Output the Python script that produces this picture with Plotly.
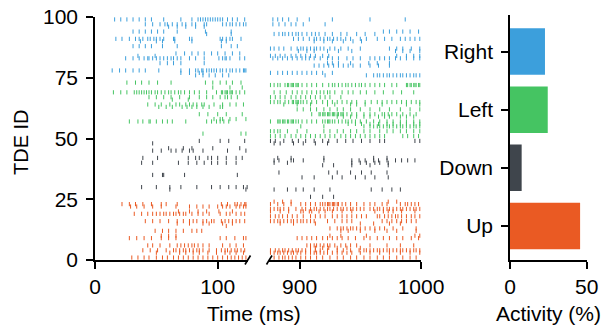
import plotly.graph_objects as go

W, H = 602, 333

# ---------------- data (spike times in ms, per TDE id) ----------------
RIGHT_SPIKES = {
    99: [16, 21, 26, 31, 36, 41, 46, 56, 70, 79, 84, 86, 88, 90, 92, 94, 96, 98, 100, 102, 104, 108, 112, 116, 122,
         878, 882, 886, 891, 898, 908, 927, 958, 987],
    97: [41, 47, 53, 57, 59, 63, 67, 71, 74, 79, 82, 89, 91, 104, 107, 110, 112, 115, 118, 121, 123,
         878, 883, 888, 893, 897, 903, 921],
    96: [60, 67, 74, 82, 89],
    94: [31, 36, 41, 46, 51, 56, 67, 90, 111, 969, 974, 980, 985, 991, 998],
    93: [91, 111, 879, 883, 886, 888, 891, 894, 897, 899, 902, 906, 910, 913, 916, 921, 927, 934, 939, 947, 954, 962],
    91: [17, 22, 28, 33, 36, 39, 43, 45, 48, 50, 53, 56, 64, 65, 77, 79, 102, 104, 107, 110, 112, 119,
         895, 899, 903, 908, 912, 914, 917, 920, 923, 925, 928, 931, 934, 938, 942, 950, 955, 964, 970, 976,
         983, 987, 991, 995, 999],
    90: [37, 50, 55, 65, 79, 103, 107, 912, 920, 927, 936, 944, 951],
    88: [31, 36, 41, 46, 55, 67, 103, 111, 116],
    87: [876, 879, 883, 887, 893, 898, 901, 903, 906, 909, 912, 914, 917, 920, 925, 929, 934, 940, 950, 974,
         980, 985, 992, 999],
    86: [899, 906, 912, 923, 932, 943, 979, 985, 991, 999],
    85: [66, 73, 79, 84, 89, 95, 100, 106, 112, 118],
    84: [35, 49, 876, 880, 884, 888, 893, 897, 901, 905, 909, 913, 919, 924, 980, 988, 994, 999],
    83: [25, 31, 36, 40, 43, 44, 47, 50, 53, 56, 59, 62, 64, 67, 70, 77, 82, 89, 101, 104, 106, 107, 110, 118, 122,
         878, 882, 886, 890, 894, 898, 902, 905, 908, 912, 917, 923, 927, 932, 939, 944, 950, 958, 962, 966,
         970, 974, 979, 983, 988, 994, 999],
    81: [53, 59, 64, 70, 89, 923, 927, 932, 942, 957, 964, 974],
    80: [912, 916, 920, 924, 928, 932, 936, 940, 944, 950, 958, 965, 974],
    78: [14, 20, 25, 31, 36, 41, 52, 70, 77, 82, 84, 87, 88, 91, 93, 95, 97, 99, 102, 104, 107, 110, 112, 115,
         118, 121, 122, 123],
    77: [70, 77, 85, 88, 876, 882, 886, 890, 894, 898, 902, 906, 910, 914, 919, 927],
    76: [82, 88, 93, 98, 104, 109, 921, 955, 961, 964, 966, 969, 972, 974, 977, 980, 983, 985, 988, 991, 994,
         996, 999],
}

LEFT_SPIKES = {
    73: [26, 33, 38, 44, 51, 62, 90, 96, 102, 107, 112, 119],
    72: [876, 879, 882, 884, 888, 890, 891, 893, 894, 895, 897, 898, 899, 902, 906, 910, 914, 919, 924, 927,
         929, 932, 935, 938, 940, 943, 946, 949, 951, 954, 958, 962, 966, 970, 976, 980, 988, 989, 991, 992,
         994, 995, 996, 998, 999],
    71: [96, 110, 120],
    69: [15, 21, 26, 32, 34, 36, 38, 40, 42, 44, 46, 49, 51, 54, 57, 60, 62, 65, 68, 70, 73, 77, 81, 85, 91, 99,
         103, 104, 106, 107, 108, 110, 111, 112, 115, 118, 122,
         879, 884, 889, 894, 898, 902, 906, 910, 914, 917, 920, 923, 925, 929, 935, 940, 944, 950, 955, 962,
         969, 977, 984, 994],
    67: [44, 50, 56, 62, 69, 77, 85, 91, 96, 102, 106, 108, 111, 116,
         876, 880, 884, 888, 893, 897, 901, 905, 909, 913, 917, 921, 925, 934],
    66: [63, 76],
    65: [876, 879, 882, 884, 888, 891, 894, 895, 897, 898, 899, 901, 903, 906, 910, 914, 919, 923, 927, 931,
         935, 939, 943, 947, 954, 959, 964, 968, 972, 976, 980, 984, 988, 992, 996, 999],
    64: [43, 49, 54, 61, 66, 69, 74, 77, 80, 83, 87, 89, 97, 104, 110, 115, 121,
         887, 898, 909, 923, 929, 942, 947, 954, 968, 988, 999],
    63: [52, 58, 63, 71, 75, 79, 83, 88, 93, 102, 104],
    62: [898, 903, 909, 914, 920, 925, 931, 936, 942, 950, 958, 966, 974, 983, 991, 999],
    60: [85, 92, 100, 107, 120,
         910, 916, 917, 919, 920, 921, 923, 924, 925, 927, 928, 929, 931, 932, 934, 935, 936, 939, 943, 947,
         953, 958, 962, 968, 970, 973, 976, 980, 985, 991, 996],
    59: [931, 936, 942, 947, 953, 958, 965, 970, 974, 983, 988, 994],
    58: [97, 102, 104, 110, 115, 123],
    57: [28, 35, 39, 44, 45, 50, 55, 59, 63, 74, 91, 95, 99, 102, 105, 109,
         876, 882, 883, 884, 886, 887, 888, 890, 891, 893, 894, 895, 897, 899, 902, 906, 910, 914, 919, 921,
         923, 924, 925, 927, 929, 932, 935, 938, 940, 943, 946, 950, 955, 961, 966, 972, 977, 983, 988, 994, 999],
    56: [940, 946, 951, 958, 965, 972, 977, 983, 988, 994, 999],
    55: [901, 920, 953, 958, 961, 964, 966, 969, 972, 974, 977, 980, 983, 985, 988, 991, 994, 996, 999],
    53: [876, 879, 882, 884, 890, 898, 906, 920, 925, 931, 936, 942, 947, 953, 958, 966, 972, 977, 983, 988,
         994, 999],
    52: [88, 119, 123],
    51: [876, 880, 884, 888, 893, 897, 901, 905, 909, 913, 917, 921, 925, 929, 934, 938, 942, 946, 950, 954,
         958, 962, 966, 970, 985, 989, 994, 998],
}

DOWN_SPIKES = {
    49: [85, 102, 109, 122, 876, 880, 887, 894, 899, 905, 912, 919, 924, 931, 938, 944, 951, 958, 966, 970,
         995, 999],
    48: [47, 879, 884, 895, 903, 913, 923],
    46: [60, 72, 79, 96, 118],
    45: [47, 54, 62, 66, 71, 77, 80, 88, 108, 123],
    42: [39, 51, 76, 82, 85, 92, 95, 100, 107, 115, 120, 882, 893, 920, 961, 972],
    41: [879, 883, 893, 895, 903, 920, 943, 949, 954, 961, 965, 972, 979, 984, 989, 995],
    40: [38, 47, 68, 76, 83, 89, 95, 100, 107, 115, 879, 890, 943, 950, 955, 962, 966, 973],
    39: [919, 928, 943, 958, 973],
    36: [883, 924, 931, 942, 951, 959, 972],
    35: [47, 55, 56, 73, 116],
    34: [902, 912, 927, 935, 946, 954, 962, 973],
    30: [38, 50, 61, 70, 83, 95, 102, 109, 115, 121, 124],
    29: [61, 123, 879, 890, 897, 903, 912, 925, 959, 968, 976, 983],
    26: [909, 919, 928],
}

UP_SPIKES = {
    24: [879, 886, 893, 973, 980],
    23: [22, 28, 33, 39, 46, 54, 58, 67, 103, 108, 114, 116, 119, 122, 123,
         876, 882, 887, 893, 901, 905, 909, 913, 917, 919, 921, 923, 924, 925, 927, 928, 929, 931, 932, 935,
         938, 942, 947, 953, 958, 962, 968, 972, 983, 987, 989, 992, 995, 998],
    22: [29, 34, 40, 47, 54, 66, 77, 83, 88, 93, 100, 104, 107, 110, 115, 118, 121, 123],
    21: [876, 879, 882, 884, 887, 891, 897, 902, 905, 909, 912, 914, 917, 920, 923, 925, 928, 931, 934, 936,
         939, 942, 944, 947, 950, 953, 958, 961, 964, 966, 969, 972, 974, 977, 980, 983, 985, 988, 991, 994,
         996, 999],
    20: [68, 77, 84, 91, 101, 112, 876, 884, 891, 901, 903, 908, 910, 916, 921, 927, 935, 943, 962, 969, 973,
         977, 984, 995],
    19: [32, 38, 43, 47, 50, 53, 56, 58, 61, 64, 66, 69, 72, 74, 79, 84, 88, 93, 102, 107, 110, 115, 119, 122],
    18: [876, 880, 883, 886, 890, 894, 898, 903, 909, 913, 917, 921, 927, 931, 935, 939, 943, 947, 951, 955,
         964, 966, 970, 973, 976, 979, 981, 984, 988, 992, 995, 999],
    16: [41, 47, 53, 60, 67, 72, 77, 80, 83, 88, 91, 95, 97, 103, 106, 109, 112, 115, 118, 122,
         876, 879, 882, 884, 887, 890, 893, 895, 898, 901, 903, 906, 909, 912, 923, 929, 935, 939, 943, 968,
         972, 976, 980, 984, 988, 992, 996],
    15: [67, 77, 88, 93, 104, 112, 884, 895, 913, 950, 961, 974, 983],
    14: [107],
    13: [925, 931, 934, 936, 939, 942, 944, 947, 950, 954, 958, 962, 966, 970, 977, 985, 996],
    12: [49, 55, 60, 66, 72, 79, 83, 87, 934, 940, 950, 962, 972, 980, 996],
    10: [54, 60, 66, 925, 934, 955, 995, 999],
    9: [28, 34, 40, 46, 54, 60, 66, 102, 107, 114, 121, 123,
        898, 902, 906, 910, 914, 919, 923, 927, 931, 935, 940, 946, 953, 958, 964, 969, 974, 980, 985, 992, 998],
    6: [43, 47, 53, 61, 67, 70, 73, 76, 79, 81, 84, 88, 93, 104, 110, 115, 121,
        906, 909, 912, 914, 917, 920, 923, 925, 929, 934, 938, 942, 947, 958, 972, 983, 994],
    5: [909, 913, 919, 924, 931, 939, 950],
    4: [39, 45, 51, 58, 64, 66, 69, 72, 74, 77, 80, 83, 85, 88, 93, 99, 103, 106, 108, 111, 114, 116, 119, 122,
        876, 880, 883, 886, 888, 891, 894, 897, 899, 902, 905, 909, 913, 917, 923, 931, 936, 942, 949, 953,
        955, 958, 961, 964, 966, 969, 972, 974, 977, 980, 983, 985, 988, 991, 994, 996, 999],
    3: [50, 61, 69, 74, 80, 85, 92, 99, 106, 110, 115, 121,
        876, 879, 882, 884, 887, 890, 893, 895, 898, 901, 905, 909, 912, 914, 917, 920, 923, 927, 931, 935,
        939, 943, 950, 958, 966, 974, 983, 991, 999],
    1: [30, 35, 40, 44, 50, 55, 59, 64, 68, 72, 76, 80, 84, 88, 92, 96, 100, 104, 108, 111, 114, 117, 120, 123,
        879, 883, 886, 888, 891, 894, 897, 901, 905, 909, 914, 919, 925, 931, 936, 942, 947, 953, 958, 964,
        969, 974, 980, 985, 991, 996],
}

CATEGORIES = ["Up", "Down", "Left", "Right"]
ACTIVITY = [45.7, 7.6, 24.6, 22.8]

Y_TICKS = [0, 25, 50, 75, 100]
X_TICKS_LEFT = [0, 100]
X_TICKS_RIGHT = [900, 1000]
ACT_TICKS = [0, 50]

COLORS = {"Up": "#ea5a23", "Down": "#3f454c", "Left": "#45c462", "Right": "#3c9fdc"}


def px_x(p):
    return p / W


def px_y(p):
    return 1 - p / H


fig = go.Figure()

groups = [("Right", RIGHT_SPIKES), ("Left", LEFT_SPIKES), ("Down", DOWN_SPIKES), ("Up", UP_SPIKES)]
for name, spikes in groups:
    lx, ly, rx, ry = [], [], [], []
    for nid, times in spikes.items():
        for t in times:
            if t < 500:
                lx.append(t)
                ly.append(nid)
            else:
                rx.append(t)
                ry.append(nid)
    mk = dict(symbol="line-ns", size=3, color=COLORS[name], line=dict(width=1, color=COLORS[name]))
    fig.add_trace(go.Scatter(x=lx, y=ly, mode="markers", marker=mk, xaxis="x", yaxis="y",
                             hoverinfo="skip", showlegend=False))
    fig.add_trace(go.Scatter(x=rx, y=ry, mode="markers", marker=mk, xaxis="x2", yaxis="y",
                             hoverinfo="skip", showlegend=False))

fig.add_trace(go.Bar(x=ACTIVITY, y=CATEGORIES, orientation="h", width=0.8,
                     marker=dict(color=[COLORS[c] for c in CATEGORIES], line=dict(width=0)),
                     xaxis="x3", yaxis="y2", showlegend=False))

FONT = dict(family="Liberation Sans, Arial, sans-serif", size=21, color="black")
axis_common = dict(showline=True, linecolor="black", linewidth=1.6, ticks="outside", ticklen=7,
                   tickwidth=1.6, tickcolor="black", showgrid=False, zeroline=False,
                   tickfont=FONT, fixedrange=True, automargin=False)

fig.update_layout(
    width=W, height=H,
    margin=dict(l=0, r=0, t=0, b=0, autoexpand=False),
    paper_bgcolor="white", plot_bgcolor="white",
    font=FONT,
    bargap=0.2,
    xaxis=dict(domain=[px_x(95), px_x(248)], range=[0, 124.7], anchor="y",
               tickvals=X_TICKS_LEFT, **axis_common),
    xaxis2=dict(domain=[px_x(269), px_x(421)], range=[874.8, 1000], anchor="y",
                tickvals=X_TICKS_RIGHT, **axis_common),
    yaxis=dict(domain=[px_y(260), px_y(17)], range=[0, 100], anchor="x",
               tickvals=Y_TICKS, ticklabelstandoff=4, **axis_common),
    xaxis3=dict(domain=[px_x(510), px_x(586.7)], range=[0, 50], anchor="y2",
                tickvals=ACT_TICKS, **axis_common),
    yaxis2=dict(domain=[px_y(260), px_y(15)], range=[-0.585, 3.63], anchor="x3",
                type="category", categoryorder="array", categoryarray=CATEGORIES,
                ticklabelstandoff=4, **axis_common),
)

# axis break marks
for x0, x1 in [(245, 250.5), (266.5, 272)]:
    fig.add_shape(type="line", xref="paper", yref="paper",
                  x0=px_x(x0), x1=px_x(x1), y0=px_y(264.5), y1=px_y(255.5),
                  line=dict(color="black", width=1.6))

fig.add_annotation(text="Time (ms)", xref="paper", yref="paper", x=px_x(254), y=px_y(313),
                   xanchor="center", yanchor="middle", showarrow=False, font=FONT)
fig.add_annotation(text="Activity (%)", xref="paper", yref="paper", x=px_x(548), y=px_y(313),
                   xanchor="center", yanchor="middle", showarrow=False, font=FONT)
fig.add_annotation(text="TDE ID", xref="paper", yref="paper", x=px_x(21), y=px_y(142),
                   xanchor="center", yanchor="middle", textangle=-90, showarrow=False,
                   font=dict(family=FONT["family"], size=20, color="black"))

fig.write_html("out.html",
               config={"displayModeBar": False},
               post_script="document.body.style.margin='0';document.body.style.overflow='hidden';")
